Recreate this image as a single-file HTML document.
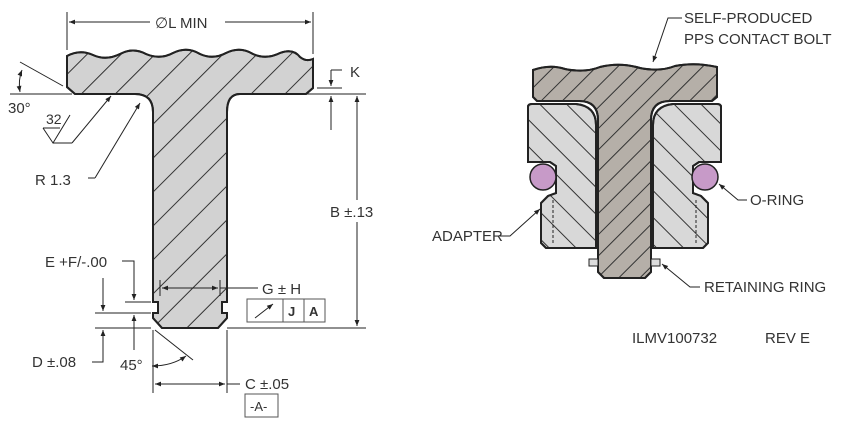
<!DOCTYPE html>
<html><head><meta charset="utf-8"><style>
html,body{margin:0;padding:0;background:#fff}
svg{display:block}
text{font-family:"Liberation Sans",sans-serif;font-size:15px;fill:#333}
</style></head><body>
<svg width="844" height="423" viewBox="0 0 844 423" xmlns="http://www.w3.org/2000/svg">
<defs>
<pattern id="h1" patternUnits="userSpaceOnUse" width="24" height="24" patternTransform="rotate(45)"><line x1="4" y1="0" x2="4" y2="24" stroke="#333" stroke-width="1"/></pattern>
<pattern id="h2" patternUnits="userSpaceOnUse" width="15" height="15" patternTransform="rotate(45)"><line x1="4" y1="0" x2="4" y2="15" stroke="#333" stroke-width="1"/></pattern>
<pattern id="h3" patternUnits="userSpaceOnUse" width="19" height="19" patternTransform="rotate(-45)"><line x1="4" y1="0" x2="4" y2="19" stroke="#333" stroke-width="1"/></pattern>
<marker id="a" viewBox="0 0 10 10" refX="10" refY="5" markerWidth="9" markerHeight="6" orient="auto-start-reverse"><path d="M0,1 L10,5 L0,9 Z" fill="#222"/></marker>
</defs>
<g stroke="#222" stroke-width="1" fill="none">
<path d="M67,56 Q80,49 93,55 Q106,61 120,54 Q133,47 146,54 Q160,60 173,53 Q187,46 200,54 Q213,60 226,53 Q240,46 253,54 Q266,60 280,53 Q293,48 300,57 Q306,62 313,59 L313,88 L306,94 L240,94 Q227,94 227,112 L227,302 L222,302 L222,313 L227,313 L227,318 L218,328 L162,328 L153,318 L153,313 L158,313 L158,302 L153,302 L153,112 Q153,94 135,94 L75,94 L67,87 Z" fill="#d2d2d2" stroke-width="2"/>
<path d="M67,56 Q80,49 93,55 Q106,61 120,54 Q133,47 146,54 Q160,60 173,53 Q187,46 200,54 Q213,60 226,53 Q240,46 253,54 Q266,60 280,53 Q293,48 300,57 Q306,62 313,59 L313,88 L306,94 L240,94 Q227,94 227,112 L227,302 L222,302 L222,313 L227,313 L227,318 L218,328 L162,328 L153,318 L153,313 L158,313 L158,302 L153,302 L153,112 Q153,94 135,94 L75,94 L67,87 Z" fill="url(#h1)" stroke-width="2"/>
<line x1="67" y1="12" x2="67" y2="50"/><line x1="313" y1="12" x2="313" y2="54"/>
<line x1="150" y1="22" x2="69" y2="22" marker-end="url(#a)"/><line x1="225" y1="22" x2="311" y2="22" marker-end="url(#a)"/>
<line x1="317" y1="88" x2="342" y2="88"/><line x1="305" y1="94" x2="366" y2="94"/>
<line x1="331" y1="70" x2="331" y2="86" marker-end="url(#a)"/><line x1="331" y1="130" x2="331" y2="96" marker-end="url(#a)"/>
<polyline points="331,70 342,70"/>
<line x1="357" y1="200" x2="357" y2="96" marker-end="url(#a)"/><line x1="357" y1="222" x2="357" y2="326" marker-end="url(#a)"/>
<line x1="227" y1="328" x2="366" y2="328"/>
<line x1="20" y1="62" x2="63" y2="86"/><line x1="10" y1="94" x2="72" y2="94"/>
<path d="M22,70 Q18,80 20,92" marker-start="url(#a)" marker-end="url(#a)"/>
<polyline points="43,128 53,143 70,115"/><line x1="43" y1="128" x2="60" y2="128"/>
<line x1="53" y1="143" x2="72" y2="143"/>
<line x1="72" y1="143" x2="111" y2="96" marker-end="url(#a)"/>
<polyline points="95,178 140,103" marker-end="url(#a)"/><line x1="88" y1="178" x2="95" y2="178"/>
<polyline points="122,261 134,261 134,300" marker-end="url(#a)"/>
<line x1="125" y1="302" x2="151" y2="302"/><line x1="95" y1="313" x2="151" y2="313"/><line x1="95" y1="328" x2="151" y2="328"/>
<line x1="103" y1="278" x2="103" y2="311" marker-end="url(#a)"/>
<line x1="134" y1="350" x2="134" y2="315" marker-end="url(#a)"/>
<polyline points="92,362 103,362 103,330" marker-end="url(#a)"/>
<line x1="153" y1="330" x2="153" y2="393"/><line x1="227" y1="330" x2="227" y2="393"/>
<line x1="155" y1="330" x2="193" y2="360"/>
<path d="M152,366 Q172,366 186,356" marker-start="url(#a)" marker-end="url(#a)"/>
<line x1="190" y1="384" x2="155" y2="384" marker-end="url(#a)"/><line x1="190" y1="384" x2="225" y2="384" marker-end="url(#a)"/>
<line x1="227" y1="384" x2="240" y2="384"/>
<line x1="160" y1="280" x2="160" y2="296"/><line x1="220" y1="280" x2="220" y2="296"/>
<line x1="190" y1="288" x2="162" y2="288" marker-end="url(#a)"/><line x1="190" y1="288" x2="218" y2="288" marker-end="url(#a)"/>
<line x1="220" y1="288" x2="258" y2="288"/>
<rect x="247" y="299" width="78" height="23" stroke="#555"/><line x1="283" y1="299" x2="283" y2="322" stroke="#555"/><line x1="304" y1="299" x2="304" y2="322" stroke="#555"/>
<line x1="255" y1="318" x2="273" y2="304" marker-end="url(#a)"/>
<rect x="245" y="394" width="33" height="23" stroke="#555"/>
</g>
<text x="155" y="28">∅L MIN</text>
<text x="350" y="77">K</text>
<text x="330" y="217">B ±.13</text>
<text x="8" y="113">30°</text>
<text x="46" y="124" style="font-size:14px">32</text>
<text x="35" y="185">R 1.3</text>
<text x="45" y="267">E +F/-.00</text>
<text x="262" y="294">G ± H</text>
<text x="288" y="316" style="font-weight:bold;font-size:13px">J</text>
<text x="309" y="316" style="font-weight:bold;font-size:13px">A</text>
<text x="32" y="367">D ±.08</text>
<text x="120" y="370">45°</text>
<text x="245" y="389">C ±.05</text>
<text x="250" y="411" style="font-size:13px">-A-</text>
<g stroke="#222" stroke-width="2">
<path d="M528,107 Q528,104 532,104 L576,104 Q596,106 596,125 L596,248 L546,248 L541,243 L541,203 L548,196 L556,193 L556,166 L550,162 L528,162 Z" fill="#d8d8d8"/>
<path d="M528,107 Q528,104 532,104 L576,104 Q596,106 596,125 L596,248 L546,248 L541,243 L541,203 L548,196 L556,193 L556,166 L550,162 L528,162 Z" fill="url(#h3)"/>
<path d="M721,107 Q721,104 717,104 L673,104 Q653,106 653,125 L653,248 L703,248 L708,243 L708,203 L701,196 L693,193 L693,166 L699,162 L721,162 Z" fill="#d8d8d8"/>
<path d="M721,107 Q721,104 717,104 L673,104 Q653,106 653,125 L653,248 L703,248 L708,243 L708,203 L701,196 L693,193 L693,166 L699,162 L721,162 Z" fill="url(#h3)"/>
<path d="M533,70 Q550,64 565,69 Q585,73 600,67 Q620,62 640,68 Q660,72 675,66 Q695,62 717,67 L717,97 L712,101 L670,101 Q651,101 651,120 L651,272 L645,278 L604,278 L598,272 L598,120 Q598,101 579,101 L537,101 L533,97 Z" fill="#b5afa8"/>
<path d="M533,70 Q550,64 565,69 Q585,73 600,67 Q620,62 640,68 Q660,72 675,66 Q695,62 717,67 L717,97 L712,101 L670,101 Q651,101 651,120 L651,272 L645,278 L604,278 L598,272 L598,120 Q598,101 579,101 L537,101 L533,97 Z" fill="url(#h2)"/>
<circle cx="543" cy="177" r="13" fill="#c79ac8" stroke-width="1.5"/>
<circle cx="705" cy="177" r="13" fill="#c79ac8" stroke-width="1.5"/>
<rect x="589" y="259" width="9" height="7" fill="#ddd" stroke-width="1"/>
<rect x="651" y="259" width="9" height="7" fill="#ddd" stroke-width="1"/>
</g>
<g stroke="#222" stroke-width="1" fill="none">
<line x1="553" y1="200" x2="553" y2="243" stroke-dasharray="3,2"/><line x1="696" y1="200" x2="696" y2="243" stroke-dasharray="3,2"/>
<polyline points="682,18 668,18 653,62" marker-end="url(#a)"/>
<polyline points="747,200 738,200 719,184" marker-end="url(#a)"/>
<polyline points="500,236 510,236 540,209" marker-end="url(#a)"/>
<polyline points="700,287 690,287 662,264" marker-end="url(#a)"/>
</g>
<text x="684" y="23">SELF-PRODUCED</text>
<text x="684" y="44">PPS CONTACT BOLT</text>
<text x="750" y="205">O-RING</text>
<text x="432" y="241">ADAPTER</text>
<text x="704" y="292">RETAINING RING</text>
<text x="632" y="343">ILMV100732</text>
<text x="765" y="343">REV E</text>
</svg>
</body></html>
